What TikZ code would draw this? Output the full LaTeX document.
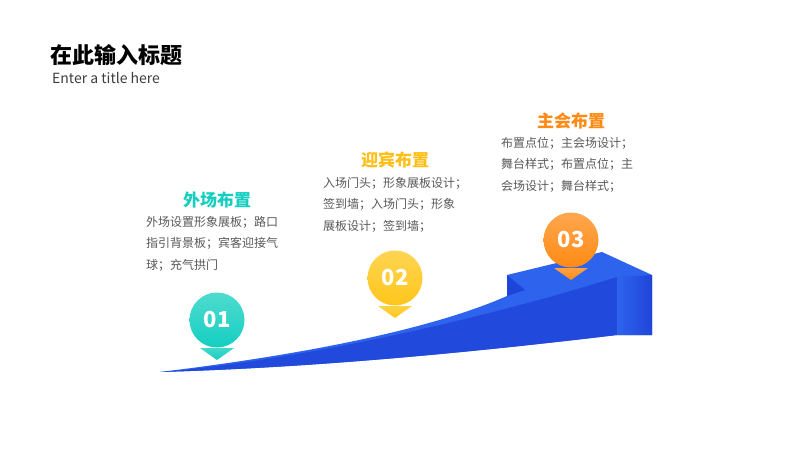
\documentclass[tikz,border=0pt]{standalone}
\usepackage{fontspec}
\setmainfont{Noto Sans CJK SC}
\usetikzlibrary{shadings}
\definecolor{teal1}{HTML}{14CFC0}
\definecolor{yel1}{HTML}{FFC61A}
\definecolor{org1}{HTML}{FF8A14}
\definecolor{blue1}{HTML}{2E63EE}
\definecolor{blue2}{HTML}{1F45D8}
\definecolor{txt}{HTML}{595959}
\begin{document}
\begin{tikzpicture}[x=1pt,y=-1pt,
 body/.style={anchor=north west,align=left,font=\fontsize{12}{21.5}\selectfont,text=txt,inner sep=0},
 head/.style={font=\bfseries\fontsize{17}{20}\selectfont,inner sep=0},
 num/.style={font=\bfseries\fontsize{22}{24}\selectfont,text=white,inner sep=0}]
\useasboundingbox (0,0) rectangle (800,450);
\fill[white] (0,0) rectangle (800,450);
\node[anchor=west,font=\bfseries\fontsize{22}{24}\selectfont,inner sep=0] (t) at (50,55) {在此输入标题};
\node[anchor=west,font=\fontsize{14}{16}\selectfont,inner sep=0,text=txt!70!black] (st) at (52,78) {Enter a title here};
% ribbon
\fill[blue1] (160,372) .. controls (300,355) and (430,330) .. (507,296) -- (507,275) -- (602,252) -- (652,275) -- (652,335) -- (617,335) .. controls (450,355) and (300,368) .. cycle;
\fill[blue2!85!blue1] (160,372) .. controls (300,360) and (480,320) .. (617,277) -- (617,335) .. controls (450,355) and (300,368) .. cycle;
\shade[left color=blue1,right color=blue2] (617,277) -- (652,275) -- (652,335) -- (617,335) -- cycle;
\fill[blue2] (507,275) -- (507,296) -- (525,290) -- cycle;
% pins
\foreach \n/\c/\x/\y/\lab in {p1/teal1/217/320/01, p2/yel1/395/278/02, p3/org1/571/240/03}{
  \shade[top color=\c!80!white,bottom color=\c] (\x-17,\y+28) -- (\x+17,\y+28) -- (\x,\y+40) -- cycle;
  \shade[top color=\c!75!white,bottom color=\c] (\x,\y) circle (27.5);
  \node[num] (\n) at (\x,\y) {\lab};
}
\node[head,text=teal1] (h1) at (217,200) {外场布置};
\node[body] (b1) at (146,216) {外场设置形象展板；路口\\指引背景板；宾客迎接气\\球；充气拱门};
\node[head,text=yel1!90!orange] (h2) at (395,160) {迎宾布置};
\node[body] (b2) at (323,177) {入场门头；形象展板设计；\\签到墙；入场门头；形象\\展板设计；签到墙；};
\node[head,text=org1] (h3) at (571,121) {主会布置};
\node[body] (b3) at (501,137) {布置点位；主会场设计；\\舞台样式；布置点位；主\\会场设计；舞台样式；};
\end{tikzpicture}
\end{document}
